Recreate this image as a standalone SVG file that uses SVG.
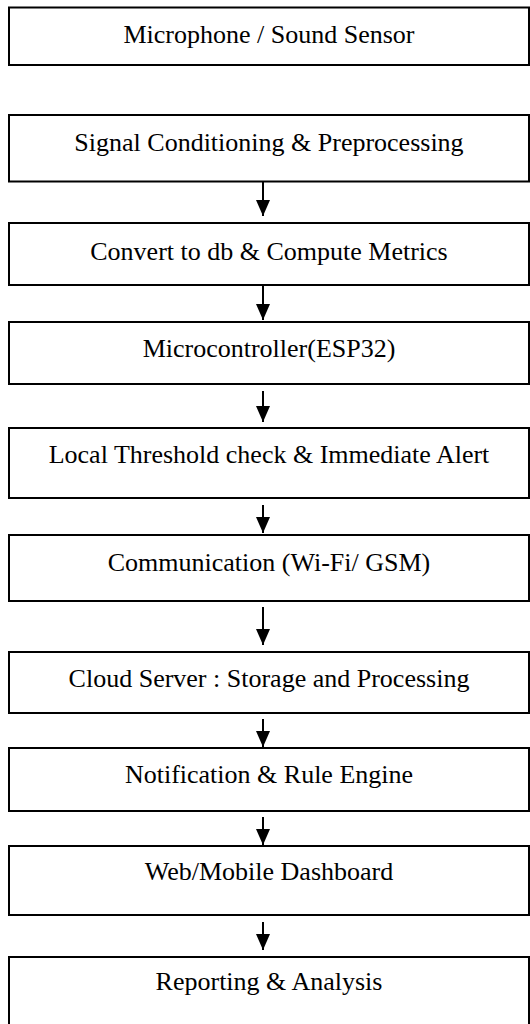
<svg xmlns="http://www.w3.org/2000/svg" width="530" height="1024" viewBox="0 0 530 1024">
<defs>
<style>
.box{fill:#fff;stroke:#000;stroke-width:2}
.lbl{font-family:"Liberation Serif","Times New Roman",serif;font-size:26px;fill:#000;text-anchor:middle}
.con{stroke:#000;stroke-width:2;fill:none}
</style>
<marker id="ah" viewBox="0 0 16 14" refX="16" refY="7" markerWidth="16" markerHeight="14" markerUnits="userSpaceOnUse" orient="auto">
<path d="M0,0 L16,7 L0,14 Z" fill="#000"/>
</marker>
</defs>
<rect width="530" height="1024" fill="#fff"/>
<g id="n1"><rect class="box" x="9" y="7.5" width="520" height="57.5"/><text class="lbl" x="269" y="43">Microphone / Sound Sensor</text></g>
<g id="n2"><rect class="box" x="9" y="115" width="520" height="66.5"/><text class="lbl" x="269" y="151">Signal Conditioning &amp; Preprocessing</text></g>
<g id="n3"><rect class="box" x="9" y="223" width="520" height="62"/><text class="lbl" x="269" y="260">Convert to db &amp; Compute Metrics</text></g>
<g id="n4"><rect class="box" x="9" y="322" width="520" height="62"/><text class="lbl" x="269" y="357">Microcontroller(ESP32)</text></g>
<g id="n5"><rect class="box" x="9" y="428" width="520" height="70"/><text class="lbl" x="269" y="463">Local Threshold check &amp; Immediate Alert</text></g>
<g id="n6"><rect class="box" x="9" y="535" width="520" height="66"/><text class="lbl" x="269" y="571">Communication (Wi-Fi/ GSM)</text></g>
<g id="n7"><rect class="box" x="9" y="652" width="520" height="61"/><text class="lbl" x="269" y="687">Cloud Server : Storage and Processing</text></g>
<g id="n8"><rect class="box" x="9" y="748" width="520" height="63"/><text class="lbl" x="269" y="783">Notification &amp; Rule Engine</text></g>
<g id="n9"><rect class="box" x="9" y="846" width="520" height="69"/><text class="lbl" x="269" y="880">Web/Mobile Dashboard</text></g>
<g id="n10"><rect class="box" x="9" y="957" width="520" height="90"/><text class="lbl" x="269" y="990">Reporting &amp; Analysis</text></g>
<g id="connectors">
<line class="con" x1="263" y1="182" x2="263" y2="216" marker-end="url(#ah)"/>
<line class="con" x1="263" y1="286" x2="263" y2="320" marker-end="url(#ah)"/>
<line class="con" x1="263" y1="391" x2="263" y2="422" marker-end="url(#ah)"/>
<line class="con" x1="263" y1="505" x2="263" y2="533" marker-end="url(#ah)"/>
<line class="con" x1="263" y1="607" x2="263" y2="645" marker-end="url(#ah)"/>
<line class="con" x1="263" y1="719" x2="263" y2="747" marker-end="url(#ah)"/>
<line class="con" x1="263" y1="817" x2="263" y2="845" marker-end="url(#ah)"/>
<line class="con" x1="263" y1="922" x2="263" y2="950" marker-end="url(#ah)"/>
</g>
</svg>
